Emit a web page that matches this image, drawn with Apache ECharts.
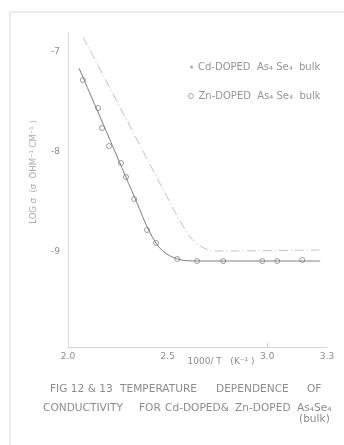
<!DOCTYPE html>
<html>
<head>
<meta charset="utf-8">
<script src="https://cdn.jsdelivr.net/npm/echarts@6/dist/echarts.min.js"></script>
<style>
  html, body { margin: 0; padding: 0; background: #ffffff; }
  #chart { width: 344px; height: 445px; }
</style>
</head>
<body>
<div id="chart"></div>
<script>
// Conductivity vs reciprocal temperature for doped As4Se4 (bulk)
const xTicks = [2.0, 2.5, 3.0, 3.3];
const yTicks = [-7, -8, -9];

const cdName = 'Cd-DOPED  As₄ Se₄  bulk';
const znName = 'Zn-DOPED  As₄ Se₄  bulk';

// Cd-doped: drawn curve (1000/T, log sigma)
const cdCurve = [
  [2.075, -6.85], [2.30, -7.70], [2.50, -8.46], [2.56, -8.68],
  [2.613, -8.85], [2.663, -8.94], [2.739, -8.99], [3.266, -8.98]
];

// Zn-doped: fitted curve and measured points
const znCurve = [
  [2.055, -7.16], [2.20, -7.83], [2.34, -8.48], [2.41, -8.80],
  [2.47, -8.98], [2.55, -9.07], [2.65, -9.09], [3.266, -9.09]
];
const znPoints = [
  [2.075, -7.28], [2.151, -7.56], [2.171, -7.76], [2.206, -7.94],
  [2.266, -8.11], [2.291, -8.25], [2.332, -8.47], [2.397, -8.78],
  [2.442, -8.91], [2.548, -9.07], [2.648, -9.09], [2.779, -9.09],
  [2.975, -9.09], [3.050, -9.09], [3.176, -9.08]
];

const xTitle = '1000/ T   (K⁻¹ )';
const yTitle = 'LOG σ  (σ  OHM⁻¹ CM⁻¹ )';
const captionLine1 = [['FIG 12 & 13', 50], ['TEMPERATURE', 120], ['DEPENDENCE', 216], ['OF', 307]];
const captionLine2 = [['CONDUCTIVITY', 43], ['FOR', 139], ['Cd-DOPED&', 165], ['Zn-DOPED', 235], ['As₄Se₄', 297]];
const captionLine3 = '(bulk)';

const font = 'DejaVu Sans';
const textGray = '#8c8c8c';

// stencil lettering is wide: stretch caption words slightly from their left edge
function word(text, x, y, size) {
  return {
    type: 'text', x: x, y: y, scaleX: 1.06, silent: true,
    style: { text: text, fill: textGray, font: size + 'px "' + font + '"', textVerticalAlign: 'middle' }
  };
}

const graphics = [
  // sheet edges
  { type: 'line', shape: { x1: 10, y1: 12, x2: 344, y2: 12 }, style: { stroke: '#d8d8d8', lineWidth: 1 }, silent: true },
  { type: 'line', shape: { x1: 10, y1: 12, x2: 10, y2: 445 }, style: { stroke: '#d8d8d8', lineWidth: 1 }, silent: true },
  {
    type: 'text', x: 221, y: 362, silent: true,
    style: { text: xTitle, fill: textGray, font: '9px "' + font + '"', textAlign: 'center', textVerticalAlign: 'middle' }
  },
  {
    type: 'text', x: 34, y: 172, rotation: Math.PI / 2, silent: true,
    style: { text: yTitle, fill: '#ababab', font: '8.5px "' + font + '"', textAlign: 'center', textVerticalAlign: 'middle' }
  }
];
captionLine1.forEach(function (w) { graphics.push(word(w[0], w[1], 389, 10)); });
captionLine2.forEach(function (w) { graphics.push(word(w[0], w[1], 408, 10)); });
graphics.push(word(captionLine3, 299, 419, 10));

const chart = echarts.init(document.getElementById('chart'));
chart.setOption({
  backgroundColor: '#ffffff',
  animation: false,
  grid: { left: 68, right: 17, top: 32, bottom: 98 },
  xAxis: {
    type: 'value', min: 2.0, max: 3.3,
    axisLine: { show: true, lineStyle: { color: '#d6d6d6', width: 1 } },
    axisTick: { show: true, inside: true, length: 4, customValues: [3.0], lineStyle: { color: '#c8c8c8' } },
    axisLabel: {
      customValues: xTicks, margin: 5,
      formatter: function (v) { return v.toFixed(1); },
      color: textGray, fontSize: 9, fontFamily: font
    },
    splitLine: { show: false }
  },
  yAxis: {
    type: 'value', min: -9.95, max: -6.8,
    axisLine: { show: true, lineStyle: { color: '#dcdcdc', width: 1 } },
    axisTick: { show: false },
    axisLabel: {
      customValues: yTicks, margin: 8,
      formatter: function (v) { return String(v); },
      color: textGray, fontSize: 9, fontFamily: font
    },
    splitLine: { show: false }
  },
  legend: [
    {
      left: 185, top: 57, itemWidth: 3, itemHeight: 3, itemGap: 4,
      data: [{ name: cdName, icon: 'circle', itemStyle: { color: '#aaaaaa' } }],
      textStyle: { color: '#959595', fontSize: 10, fontFamily: font }
    },
    {
      left: 183, top: 86, itemWidth: 5, itemHeight: 5, itemGap: 4,
      data: [{ name: znName, icon: 'circle', itemStyle: { color: '#ffffff', borderColor: '#999999', borderWidth: 1 } }],
      textStyle: { color: '#959595', fontSize: 10, fontFamily: font }
    }
  ],
  series: [
    {
      name: cdName, type: 'line', data: cdCurve,
      smooth: 0.35, showSymbol: false,
      lineStyle: { color: '#c2c2c2', width: 1, type: [9, 3, 1, 3] },
      itemStyle: { color: '#aaaaaa' }
    },
    {
      name: 'Zn fit', type: 'line', data: znCurve,
      smooth: 0.35, showSymbol: false,
      lineStyle: { color: '#7e7e7e', width: 1 }
    },
    {
      name: znName, type: 'scatter', data: znPoints,
      symbol: 'circle', symbolSize: 5,
      itemStyle: { color: '#ffffff', borderColor: '#858585', borderWidth: 1 }
    }
  ],
  graphic: graphics
});
</script>
</body>
</html>
